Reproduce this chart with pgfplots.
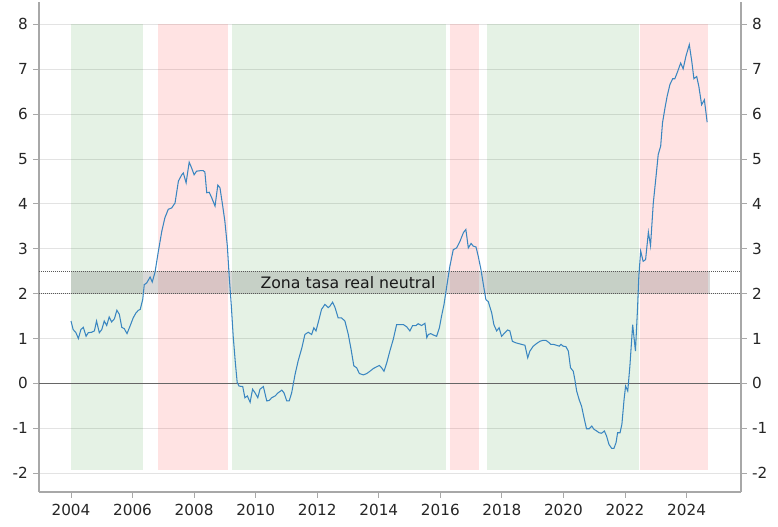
\documentclass[border=0pt]{standalone}
\usepackage{fontspec}
\setmainfont{DejaVu Sans}
\usepackage{pgfplots}
\usepackage{pgfplotstable}
\pgfplotsset{compat=1.18}
\definecolor{linblue}{HTML}{3A86C0}
\definecolor{spinegray}{HTML}{A8A8A8}
\definecolor{shgreen}{RGB}{0,128,0}
\definecolor{shred}{RGB}{255,0,0}

\pgfplotstableread{
x y
2004.00 1.39
2004.07 1.20
2004.16 1.13
2004.24 1.00
2004.32 1.20
2004.40 1.25
2004.49 1.05
2004.56 1.13
2004.67 1.14
2004.76 1.17
2004.83 1.39
2004.92 1.13
2005.00 1.20
2005.08 1.39
2005.16 1.29
2005.24 1.48
2005.32 1.37
2005.41 1.44
2005.49 1.63
2005.57 1.54
2005.65 1.25
2005.73 1.22
2005.82 1.11
2005.92 1.28
2006.02 1.46
2006.11 1.57
2006.19 1.63
2006.25 1.65
2006.33 1.87
2006.38 2.20
2006.46 2.24
2006.57 2.37
2006.64 2.26
2006.73 2.48
2006.84 2.95
2006.95 3.39
2007.05 3.69
2007.16 3.88
2007.27 3.91
2007.38 4.02
2007.49 4.51
2007.60 4.65
2007.65 4.69
2007.74 4.47
2007.84 4.93
2007.92 4.80
2008.00 4.65
2008.08 4.73
2008.19 4.74
2008.30 4.74
2008.35 4.71
2008.41 4.25
2008.49 4.26
2008.57 4.14
2008.68 3.95
2008.77 4.42
2008.84 4.36
2008.93 3.95
2009.00 3.61
2009.08 3.06
2009.14 2.39
2009.21 1.72
2009.27 1.05
2009.34 0.46
2009.40 0.02
2009.46 -0.06
2009.58 -0.07
2009.65 -0.32
2009.73 -0.28
2009.82 -0.42
2009.90 -0.13
2009.98 -0.21
2010.07 -0.32
2010.14 -0.13
2010.25 -0.07
2010.36 -0.39
2010.44 -0.38
2010.52 -0.32
2010.63 -0.28
2010.73 -0.21
2010.85 -0.15
2010.92 -0.21
2011.01 -0.39
2011.09 -0.39
2011.17 -0.21
2011.28 0.20
2011.38 0.50
2011.50 0.79
2011.60 1.09
2011.71 1.14
2011.82 1.09
2011.89 1.24
2011.96 1.17
2012.03 1.35
2012.14 1.65
2012.25 1.76
2012.36 1.69
2012.41 1.72
2012.50 1.81
2012.58 1.69
2012.68 1.46
2012.79 1.46
2012.90 1.39
2013.01 1.09
2013.10 0.76
2013.19 0.39
2013.28 0.35
2013.37 0.22
2013.50 0.19
2013.61 0.22
2013.71 0.27
2013.82 0.33
2013.93 0.37
2014.02 0.40
2014.09 0.35
2014.17 0.27
2014.26 0.46
2014.36 0.72
2014.47 0.98
2014.58 1.31
2014.69 1.31
2014.80 1.31
2014.91 1.26
2015.01 1.17
2015.10 1.29
2015.21 1.29
2015.28 1.33
2015.39 1.29
2015.50 1.34
2015.56 1.02
2015.61 1.09
2015.69 1.11
2015.77 1.08
2015.88 1.05
2015.97 1.24
2016.04 1.50
2016.12 1.76
2016.21 2.17
2016.31 2.61
2016.42 2.98
2016.53 3.02
2016.64 3.17
2016.75 3.36
2016.83 3.43
2016.91 3.02
2017.00 3.12
2017.07 3.06
2017.16 3.04
2017.23 2.84
2017.32 2.54
2017.40 2.20
2017.48 1.87
2017.56 1.82
2017.67 1.57
2017.74 1.31
2017.83 1.17
2017.91 1.24
2017.99 1.05
2018.10 1.13
2018.19 1.19
2018.26 1.17
2018.34 0.94
2018.43 0.91
2018.53 0.89
2018.64 0.87
2018.75 0.85
2018.84 0.57
2018.91 0.72
2019.02 0.83
2019.13 0.89
2019.24 0.94
2019.34 0.96
2019.43 0.96
2019.51 0.92
2019.59 0.87
2019.67 0.87
2019.78 0.85
2019.86 0.83
2019.92 0.87
2019.99 0.83
2020.08 0.82
2020.16 0.72
2020.23 0.35
2020.32 0.27
2020.37 0.09
2020.43 -0.17
2020.51 -0.36
2020.59 -0.51
2020.68 -0.80
2020.75 -1.01
2020.84 -1.01
2020.92 -0.95
2020.99 -1.02
2021.08 -1.06
2021.16 -1.10
2021.24 -1.11
2021.33 -1.06
2021.40 -1.17
2021.48 -1.36
2021.57 -1.45
2021.64 -1.45
2021.71 -1.32
2021.76 -1.10
2021.84 -1.10
2021.90 -0.91
2021.97 -0.36
2022.02 -0.06
2022.09 -0.17
2022.16 0.39
2022.25 1.31
2022.34 0.72
2022.41 1.70
2022.45 2.39
2022.51 2.95
2022.59 2.72
2022.67 2.76
2022.76 3.37
2022.83 3.07
2022.92 4.02
2023.01 4.62
2023.08 5.10
2023.16 5.29
2023.22 5.81
2023.30 6.14
2023.37 6.40
2023.46 6.66
2023.55 6.79
2023.62 6.79
2023.70 6.93
2023.81 7.14
2023.89 7.01
2023.98 7.29
2024.09 7.55
2024.17 7.18
2024.24 6.79
2024.33 6.84
2024.40 6.62
2024.49 6.21
2024.58 6.32
2024.67 5.82
}\tasa

\begin{document}
\fontsize{15}{18}\selectfont
\begin{tikzpicture}
\pgfplotsset{
  common/.style={
    scale only axis, width=702bp, height=490bp,
    xmin=2002.96, xmax=2025.77, ymin=-2.42, ymax=8.5,
    /pgf/number format/assume math mode=true,
    /pgf/number format/1000 sep={},
    tick align=outside,
    major tick length=6bp,
    tick style={spinegray, line width=0.9bp},
    axis line style={spinegray, line width=1.1bp},
    ticklabel style={font=\fontsize{15.3}{18}\selectfont, text=black!85},
    ytick={-2,-1,...,8},
  }
}
\begin{axis}[common,
  axis x line*=bottom, axis y line*=left,
  xtick={2004,2006,...,2024},
  ymajorgrids, grid style={black!11, line width=0.9bp},
  xticklabel style={yshift=-1bp},
]
% shaded regimes
\addplot[draw=none, fill=shgreen, fill opacity=0.1] coordinates {(2004.00,-1.92) (2006.35,-1.92) (2006.35,8) (2004.00,8)} -- cycle;
\addplot[draw=none, fill=shred, fill opacity=0.11] coordinates {(2006.83,-1.92) (2009.09,-1.92) (2009.09,8) (2006.83,8)} -- cycle;
\addplot[draw=none, fill=shgreen, fill opacity=0.1] coordinates {(2009.24,-1.92) (2016.17,-1.92) (2016.17,8) (2009.24,8)} -- cycle;
\addplot[draw=none, fill=shred, fill opacity=0.11] coordinates {(2016.32,-1.92) (2017.26,-1.92) (2017.26,8) (2016.32,8)} -- cycle;
\addplot[draw=none, fill=shgreen, fill opacity=0.1] coordinates {(2017.51,-1.92) (2022.45,-1.92) (2022.45,8) (2017.51,8)} -- cycle;
\addplot[draw=none, fill=shred, fill opacity=0.11] coordinates {(2022.50,-1.92) (2024.69,-1.92) (2024.69,8) (2022.50,8)} -- cycle;
% neutral zone
\addplot[draw=none, fill=black!50, fill opacity=0.3] coordinates {(2004.00,2) (2024.76,2) (2024.76,2.5) (2004.00,2.5)} -- cycle;
\addplot[black!65, line width=0.7bp, dash pattern=on 1.2bp off 0.8bp] coordinates {(2002.96,2) (2025.77,2)};
\addplot[black!65, line width=0.7bp, dash pattern=on 1.2bp off 0.8bp] coordinates {(2002.96,2.5) (2025.77,2.5)};
\addplot[black!60, line width=1bp] coordinates {(2002.96,0) (2025.77,0)};
\addplot[linblue, line width=1.05bp] table[x=x, y=y] {\tasa};
\node[font=\fontsize{15.8}{18}\selectfont, text=black!90] at (axis cs:2013.0,2.25) {Zona tasa real neutral};
\end{axis}
\begin{axis}[common,
  axis x line=none, axis y line*=right,
  xtick=\empty,
]
\addplot[draw=none] coordinates {(2004,0)};
\end{axis}
\path (current axis.south west) ++(-39bp,-35bp) rectangle ++(778bp,527bp);
\end{tikzpicture}
\end{document}
